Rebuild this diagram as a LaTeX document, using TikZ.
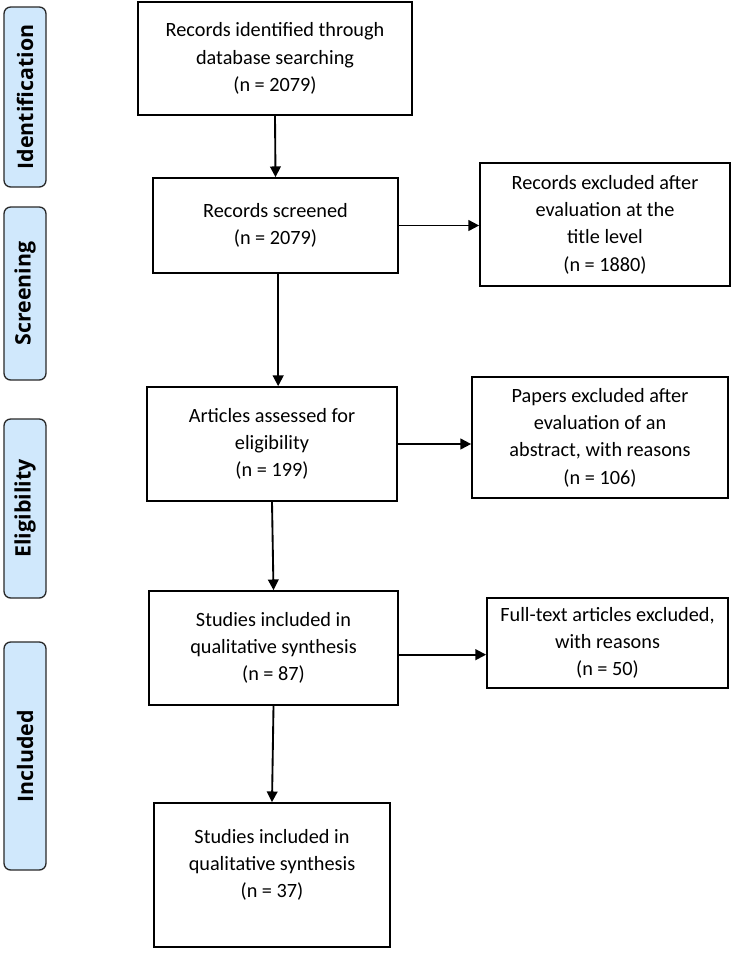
\documentclass[tikz,border=0pt]{standalone}
\usepackage{fontspec}
\setmainfont{Carlito}
\newfontfamily\sidefont{Open Sans}
\usetikzlibrary{arrows.meta}
\definecolor{sidefill}{RGB}{208,232,252}
\definecolor{sideline}{RGB}{40,40,40}
\tikzset{
  box/.style={draw=black, line width=1.3pt, inner sep=0pt, align=center,
    font=\fontsize{15.2}{20.5}\selectfont},
  side/.style={draw=sideline, fill=sidefill, line width=1pt, rounded corners=5pt,
    inner sep=0pt, minimum width=31.5pt, font=\sidefont\bfseries\fontsize{16}{18}\selectfont},
  arr/.style={line width=1.4pt, -{Triangle[length=8pt,width=8pt]}}
}
\begin{document}
\begin{tikzpicture}[x=0.75pt,y=-0.75pt]
\useasboundingbox (0,0) rectangle (740,958);
% side labels
\node[side, minimum height=135pt] (s1) at (25,97) {\rotatebox{90}{Identification}};
\node[side, minimum height=129.75pt] (s2) at (25,293.5) {\rotatebox{90}{Screening}};
\node[side, minimum height=134.25pt] (s3) at (25,508.5) {\rotatebox{90}{Eligibility}};
\node[side, minimum height=171pt] (s4) at (25,756) {\rotatebox{90}{Included}};
% main boxes
\node[box, minimum width=205.5pt, minimum height=84.75pt] (b1) at (275,58.5) {Records identified through\\database searching\\(n = 2079)};
\node[box, minimum width=183.75pt, minimum height=71.25pt] (b2) at (275.5,225.5) {Records screened\\(n = 2079)};
\node[box, minimum width=187.5pt, minimum height=92.25pt] (b3) at (605,224.5) {Records excluded after\\evaluation at the\\title level\\(n = 1880)};
\node[box, minimum width=187.5pt, minimum height=85.5pt] (b4) at (272,444) {Articles assessed for\\eligibility\\(n = 199)};
\node[box, minimum width=192pt, minimum height=90.75pt] (b5) at (600,437.5) {Papers excluded after\\evaluation of an\\abstract, with reasons\\(n = 106)};
\node[box, minimum width=186.75pt, minimum height=85.5pt] (b6) at (273.5,648) {Studies included in\\qualitative synthesis\\(n = 87)};
\node[box, minimum width=180.75pt, minimum height=67.5pt] (b7) at (607.5,643) {Full-text articles excluded,\\with reasons\\(n = 50)};
\node[box, minimum width=177pt, minimum height=108pt,
  label={[box, draw=none, yshift=7.5pt]center:Studies included in\\qualitative synthesis\\(n = 37)}] (b8) at (272,875) {};
% connectors
\draw[arr] (b1.south) -- (b2.north);
\draw[arr] (b2.east) -- (b2.east -| b3.west);
\draw[arr] ([xshift=2pt]b2.south) -- ([xshift=2pt]b2.south |- b4.north);
\draw[arr] (b4.east) -- (b4.east -| b5.west);
\draw[arr] (b4.south) -- (b6.north);
\draw[arr] ([yshift=-5pt]b6.east) -- ([yshift=-5pt]b6.east -| b7.west);
\draw[arr] (b6.south) -- (b8.north);
\end{tikzpicture}
\end{document}
